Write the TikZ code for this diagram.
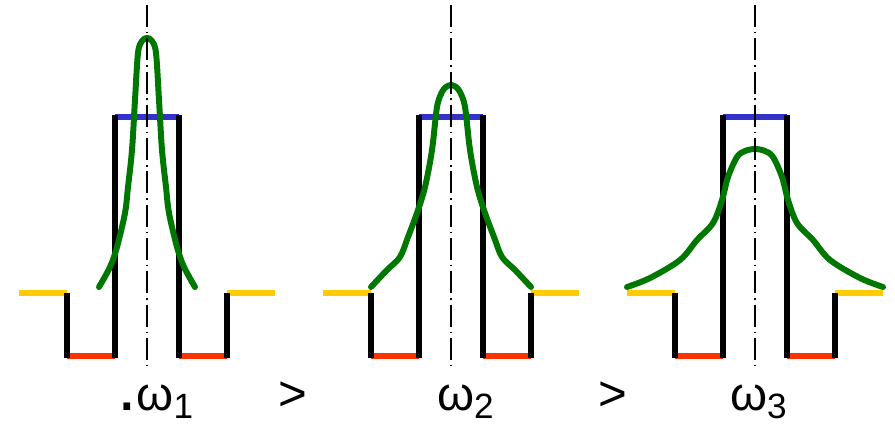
\documentclass[tikz,border=0pt]{standalone}
\usepackage{fontspec}
\setmainfont{Liberation Sans}
\usepackage{tikz}
\usetikzlibrary{positioning}
\definecolor{barrcol}{RGB}{255,204,0}
\definecolor{wellcol}{RGB}{255,51,0}
\definecolor{topcol}{RGB}{51,51,204}
\definecolor{wavecol}{RGB}{0,119,0}
\newcommand{\omlab}[1]{\fontsize{27}{30}\selectfont ω\raisebox{-5pt}{\fontsize{20}{22}\selectfont #1}}

\begin{document}
\begin{tikzpicture}[x=0.02cm,y=-0.02cm,
    wall/.style={line width=3.2pt,black},
    bar/.style={line width=3.1pt},
    wave/.style={line width=3.4pt,wavecol,smooth,tension=0.55,line join=round,line cap=round},
    axisline/.style={line width=0.85pt,dash pattern=on 12.5pt off 2.8pt on 0.85pt off 2.8pt},
    lbl/.style={inner sep=1pt,anchor=base west}]
  \useasboundingbox (0,0) rectangle (895,423);
  % three wells, same shape
  \foreach \c in {147,451,755}{
  \begin{scope}[shift={(\c,0)}]
    \draw[bar,barrcol] (-128,293)--(-80,293);
    \draw[bar,barrcol] (80,293)--(128,293);
    \draw[bar,wellcol] (-80,356)--(-32,356);
    \draw[bar,wellcol] (32,356)--(80,356);
    \draw[bar,topcol] (-32,117)--(32,117);
    \draw[wall] (-80,293)--(-80,357.6);
    \draw[wall] (80,293)--(80,357.6);
    \draw[wall] (-32,115.4)--(-32,357.6);
    \draw[wall] (32,115.4)--(32,357.6);
  \end{scope}}
  % probability densities
  \begin{scope}[shift={(147,0)}]
    \draw[wave] plot coordinates {(-48,287) (-37,267) (-30,247) (-22,213) (-19,187) (-15,150) (-12,100) (-9,53) (-5,41) (0,38) (5,41) (9,53) (12,100) (15,150) (19,187) (22,213) (30,247) (37,267) (48,287)};
  \end{scope}
  \begin{scope}[shift={(451,0)}]
    \draw[wave] plot coordinates {(-80,287) (-64,270) (-51,257) (-43,237) (-34,213) (-26,187) (-19,150) (-14,107) (-9,92) (-5,87) (0,85) (5,87) (9,92) (14,107) (19,150) (26,187) (34,213) (43,237) (51,257) (64,270) (80,287)};
  \end{scope}
  \begin{scope}[shift={(755,0)}]
    \draw[wave] plot coordinates {(-128,287) (-105,278) (-75,260) (-58,240) (-42,223) (-33,200) (-27,177) (-18,157) (-10,151) (0,149) (10,151) (18,157) (27,177) (33,200) (42,223) (58,240) (75,260) (105,278) (128,287)};
  \end{scope}
  % symmetry axes
  \foreach \c in {147,451,755}
    \draw[axisline] (\c,5)--(\c,367);
  \node[lbl] (om1) at (115,410) {{\fontsize{40}{40}\selectfont.}\omlab{1}};
  \node[lbl] (om2) at (435,410) {\omlab{2}};
  \node[lbl] (om3) at (728,410) {\omlab{3}};
  \node[inner sep=0pt,anchor=base,font=\fontsize{28}{30}\selectfont] (gt1) at (293,410) {>};
  \node[inner sep=0pt,anchor=base,font=\fontsize{28}{30}\selectfont] (gt2) at (613,410) {>};
\end{tikzpicture}
\end{document}
